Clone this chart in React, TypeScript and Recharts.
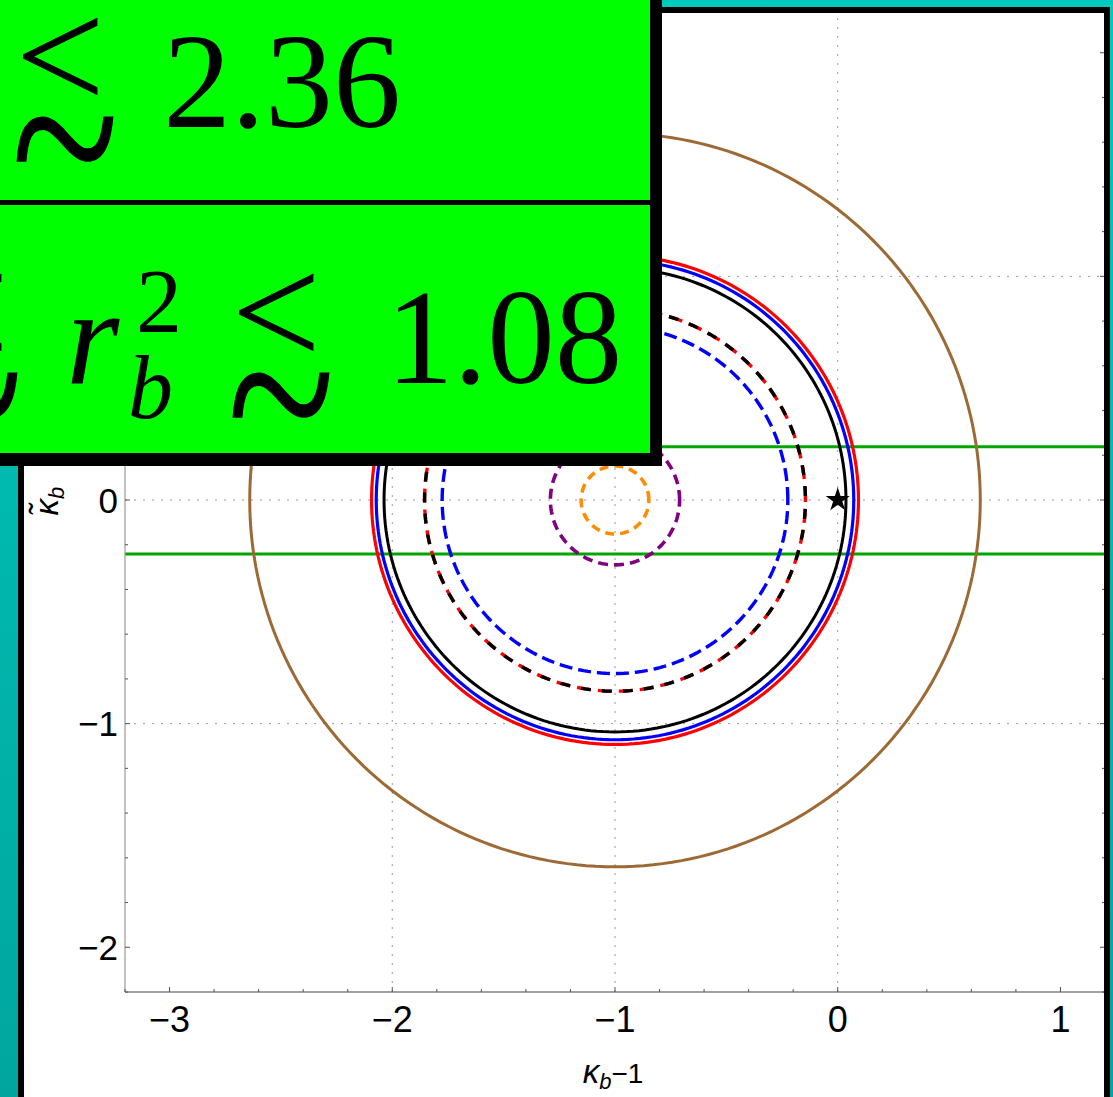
import React from "react"
import { ScatterChart, Scatter, XAxis, YAxis, ReferenceLine, Symbols } from "recharts"

// every ring is centred on the same point
const RING_CENTER = { x: -1, y: 0 }

const RING_NAMES = ["brown", "red", "blue", "black", "redBlackDashed", "blueDashed", "purpleDashed", "orangeDashed"]
const RING_RADII = [1.64, 1.093, 1.072, 1.037, 0.855, 0.776, 0.29, 0.152]

// horizontal band limits on the kappa-tilde axis
const BAND_LIMITS = [0.238, -0.242]

// standard-model point
const SM_POINT = [{ x: 0, y: 0 }]

const X_DOMAIN = [-3.2, 1.2]
const Y_DOMAIN = [-2.2, 2.2]
const X_GRID = [-2, -1, 0]
const Y_GRID = [-1, 0, 1]

const X_TICKS = Array.from({ length: 23 }, (_, i) => +(-3.2 + 0.2 * i).toFixed(1))
const Y_TICKS = Array.from({ length: 23 }, (_, i) => +(-2.2 + 0.2 * i).toFixed(1))

type Layer = { stroke: string; width: number; dash?: string; offset?: number }

const RING_STYLE: Record<string, Layer[]> = {
  brown: [{ stroke: "#9d6a35", width: 3 }],
  red: [{ stroke: "#ff0000", width: 3.2 }],
  blue: [{ stroke: "#0000ff", width: 3.2 }],
  black: [{ stroke: "#000000", width: 3 }],
  redBlackDashed: [
    { stroke: "#ff0000", width: 3.4, dash: "14 7" },
    { stroke: "#000000", width: 3.4, dash: "10 11", offset: -4 },
  ],
  blueDashed: [{ stroke: "#0000ff", width: 3.4, dash: "13 6" }],
  purpleDashed: [{ stroke: "#800080", width: 3.6, dash: "10 6" }],
  orangeDashed: [{ stroke: "#ff8c00", width: 3.6, dash: "9 6" }],
}

function ringPoints(r: number) {
  const n = 240
  return Array.from({ length: n + 1 }, (_, i) => {
    const t = (i / n) * Math.PI * 2
    return { x: RING_CENTER.x + r * Math.cos(t), y: RING_CENTER.y + r * Math.sin(t) }
  })
}

const SANS = "'Liberation Sans', Arial, sans-serif"
const SERIF = "'Liberation Serif', 'Times New Roman', serif"

const fmt = (v: number) => (v < 0 ? `\u2212${Math.abs(v)}` : `${v}`)
const isMajor = (v: number) => Math.abs(v - Math.round(v)) < 1e-6

// eslint-disable-next-line @typescript-eslint/no-explicit-any
function BottomTick({ x, y, payload }: any) {
  const v = payload.value
  const major = isMajor(v)
  return (
    <g>
      <line x1={x} x2={x} y1={y} y2={y - (major ? 5 : 3)} stroke="#555" />
      {major && (
        <text x={x} y={y + 40} textAnchor="middle" fontSize={36} fontFamily={SANS} fill="#000">
          {fmt(v)}
        </text>
      )}
    </g>
  )
}

// eslint-disable-next-line @typescript-eslint/no-explicit-any
function LeftTick({ x, y, payload }: any) {
  const v = payload.value
  const major = isMajor(v)
  return (
    <g>
      <line x1={x} x2={x + (major ? 5 : 3)} y1={y} y2={y} stroke="#555" />
      {major && (
        <text x={x - 7} y={y + 12.5} textAnchor="end" fontSize={35} fontFamily={SANS} fill="#000">
          {fmt(v)}
        </text>
      )}
    </g>
  )
}

// eslint-disable-next-line @typescript-eslint/no-explicit-any
function TopTick({ x, y, payload }: any) {
  const major = isMajor(payload.value)
  return <line x1={x} x2={x} y1={y} y2={y + (major ? 7 : 5)} stroke="#555" />
}

// eslint-disable-next-line @typescript-eslint/no-explicit-any
function RightTick({ x, y, payload }: any) {
  const major = isMajor(payload.value)
  return <line x1={x} x2={x - (major ? 5 : 3)} y1={y} y2={y} stroke="#555" />
}

// eslint-disable-next-line @typescript-eslint/no-explicit-any
const StarShape = (props: any) => <Symbols cx={props.cx} cy={props.cy} type="star" size={180} fill="#000" />

const NoDot = () => <g />

// "less than or about": a tall < stacked over a tilde, x = left ink edge, base = digit baseline
function Lesssim({ x, base }: { x: number; base: number }) {
  return (
    <g fill="#000" fontFamily={SERIF}>
      <text x={x - 3} y={base - 17} fontSize={160}>{"<"}</text>
      <text transform={`translate(${x - 7}, ${base + 101}) scale(1, 1.35)`} fontSize={200}>{"~"}</text>
    </g>
  )
}

export default function App() {
  return (
    <div
      style={{
        position: "absolute",
        left: 0,
        top: 0,
        width: 1113,
        height: 1097,
        overflow: "hidden",
        background: "linear-gradient(180deg, #00c9bd 0%, #00a69e 100%)",
      }}
    >
      {/* white panel */}
      <div style={{ position: "absolute", left: 18, top: 7, width: 1092, height: 1090, background: "#fff" }} />

      <div style={{ position: "absolute", left: 0, top: 0 }}>
        <ScatterChart width={1113} height={1097} margin={{ top: 7, right: 7, bottom: 45, left: 65 }}>
          <XAxis
            type="number"
            dataKey="x"
            domain={X_DOMAIN}
            allowDataOverflow
            ticks={X_TICKS}
            interval={0}
            tickSize={0}
            tickMargin={0}
            tickLine={false}
            height={60}
            axisLine={{ stroke: "#444", strokeWidth: 1.2 }}
            tick={<BottomTick />}
          />
          <XAxis
            xAxisId="top"
            orientation="top"
            type="number"
            domain={X_DOMAIN}
            allowDataOverflow
            ticks={X_TICKS}
            interval={0}
            tickSize={0}
            tickMargin={0}
            tickLine={false}
            height={1}
            axisLine={false}
            tick={<TopTick />}
          />
          <YAxis
            type="number"
            dataKey="y"
            domain={Y_DOMAIN}
            allowDataOverflow
            ticks={Y_TICKS}
            interval={0}
            tickSize={0}
            tickMargin={0}
            tickLine={false}
            width={60}
            axisLine={{ stroke: "#999", strokeWidth: 1.2 }}
            tick={<LeftTick />}
          />
          <YAxis
            yAxisId="right"
            orientation="right"
            type="number"
            domain={Y_DOMAIN}
            allowDataOverflow
            ticks={Y_TICKS}
            interval={0}
            tickSize={0}
            tickMargin={0}
            tickLine={false}
            width={1}
            axisLine={false}
            tick={<RightTick />}
          />

          {X_GRID.map((v) => (
            <ReferenceLine key={`gx${v}`} x={v} stroke="#999" strokeDasharray="2 7" />
          ))}
          {Y_GRID.map((v) => (
            <ReferenceLine key={`gy${v}`} y={v} stroke="#999" strokeDasharray="2 7" />
          ))}

          {RING_NAMES.map((name, i) =>
            RING_STYLE[name].map((layer, j) => (
              <Scatter
                key={`${name}-${j}`}
                data={ringPoints(RING_RADII[i])}
                shape={NoDot}
                line={{
                  stroke: layer.stroke,
                  strokeWidth: layer.width,
                  strokeDasharray: layer.dash,
                  strokeDashoffset: layer.offset,
                }}
                lineType="joint"
                isAnimationActive={false}
              />
            ))
          )}

          {BAND_LIMITS.map((v) => (
            <ReferenceLine key={`band${v}`} y={v} stroke="#00a600" strokeWidth={3} />
          ))}

          <Scatter data={SM_POINT} shape={StarShape} isAnimationActive={false} />
        </ScatterChart>
      </div>

      {/* panel frame, drawn over the plot */}
      <div
        style={{
          position: "absolute",
          left: 18,
          top: 7,
          width: 1092,
          height: 1096,
          border: "6px solid #000",
          boxSizing: "border-box",
        }}
      />

      <svg width={1113} height={1097} style={{ position: "absolute", left: 0, top: 0 }}>
        {/* axis titles */}
        <text x={613} y={1083} textAnchor="middle" fontFamily={SANS} fontSize={28} fill="#000">
          <tspan fontStyle="italic" fontSize={33}>κ</tspan>
          <tspan fontStyle="italic" fontSize={22} dy={6}>b</tspan>
          <tspan dy={-6}>{"\u22121"}</tspan>
        </text>
        <text transform="translate(58, 501) rotate(-90)" textAnchor="middle" fontFamily={SANS} fontSize={33} fill="#000">
          <tspan fontStyle="italic">{"κ\u0303"}</tspan>
          <tspan fontStyle="italic" fontSize={22} dy={6}>b</tspan>
        </text>

        {/* bound boxes */}
        <rect x={0} y={0} width={662} height={466} fill="#000" />
        <rect x={0} y={0} width={650} height={200} fill="#00ff00" />
        <rect x={0} y={205} width={650} height={248} fill="#00ff00" />

        <Lesssim x={18} base={127} />
        <text x={163} y={127} fontFamily={SERIF} fontSize={136} fill="#000">2.36</text>

        <Lesssim x={-78} base={383} />
        <text x={66} y={383} fontFamily={SERIF} fontStyle="italic" fontSize={137} fill="#000">r</text>
        <text x={136} y={332} fontFamily={SERIF} fontSize={92} fill="#000">2</text>
        <text x={128} y={418} fontFamily={SERIF} fontStyle="italic" fontSize={90} fill="#000">b</text>
        <Lesssim x={234} base={383} />
        <text x={386} y={383} fontFamily={SERIF} fontSize={135} fill="#000">1.08</text>
      </svg>
    </div>
  )
}
